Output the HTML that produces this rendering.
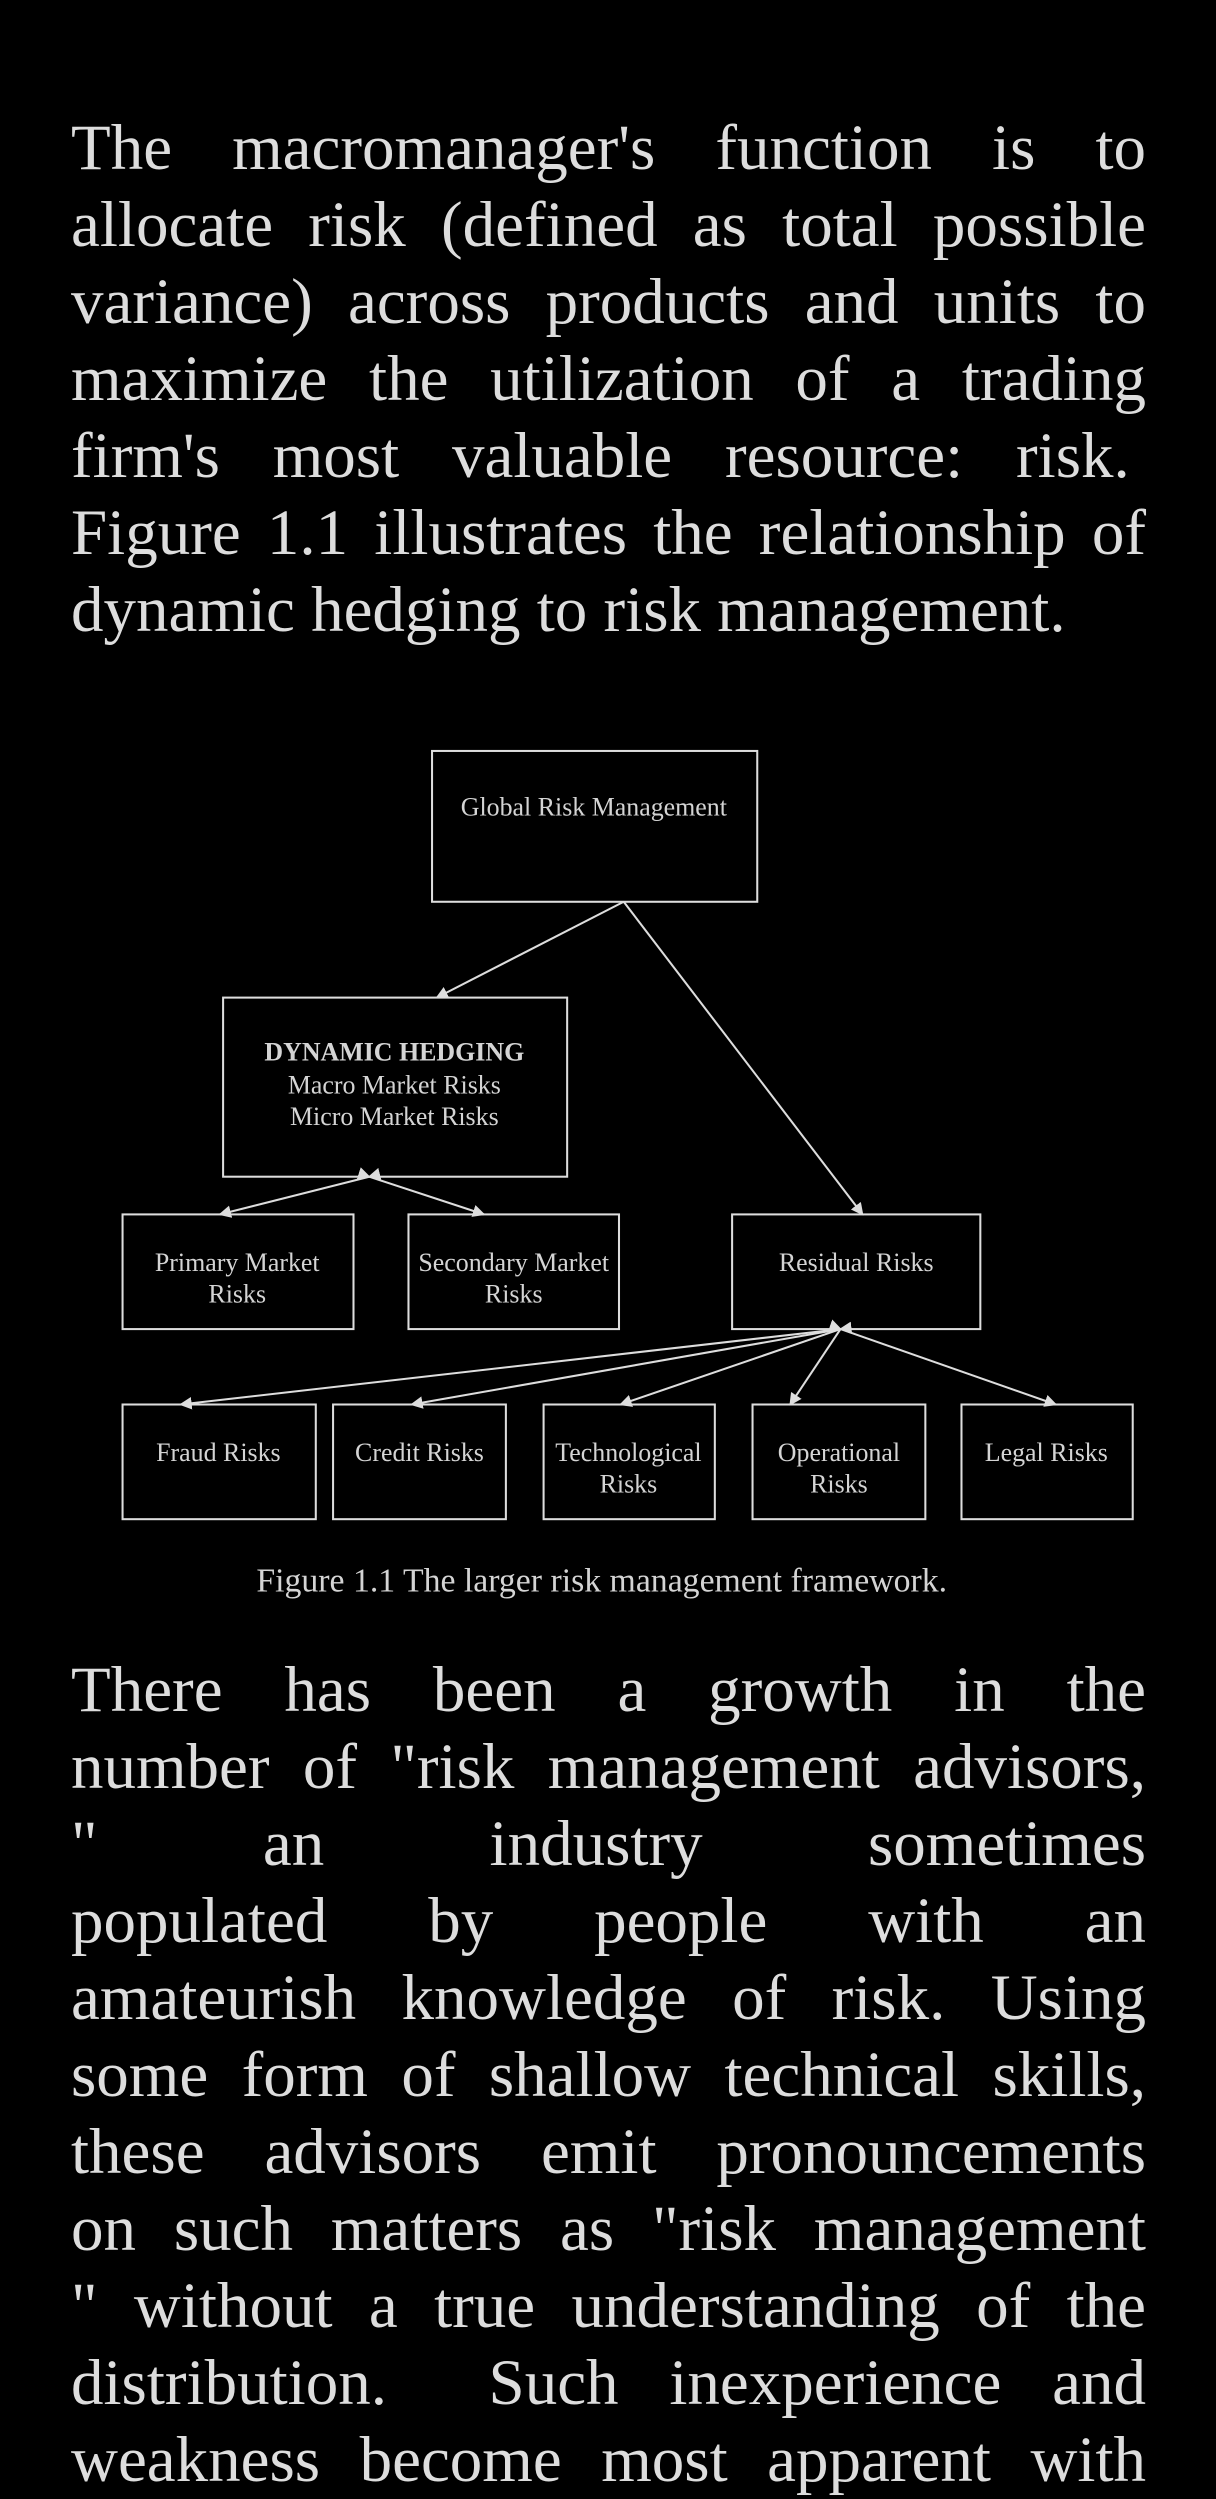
<!DOCTYPE html>
<html><head><meta charset="utf-8"><style>
html,body{margin:0;padding:0;background:#000;}
body{width:1216px;height:2464px;position:relative;overflow:hidden;font-family:"Liberation Serif",serif;color:#ddd;}
.p{position:absolute;left:71px;width:1075px;font-size:65px;}
.p div{height:77px;line-height:77px;white-space:nowrap;text-align:justify;text-align-last:justify;}
.p div.l{text-align-last:left;}
svg{position:absolute;left:0;top:0;}
</style></head><body>
<div class="p" style="top:110px">
<div>The macromanager's function is to</div>
<div>allocate risk (defined as total possible</div>
<div>variance) across products and units to</div>
<div>maximize the utilization of a trading</div>
<div>firm's most valuable resource: risk.&nbsp;</div>
<div>Figure 1.1 illustrates the relationship of</div>
<div class="l">dynamic hedging to risk management.</div>
</div>

<svg width="1216" height="2464" viewBox="0 0 774 1568.4" xmlns="http://www.w3.org/2000/svg">
<defs><marker id="a" markerWidth="8" markerHeight="8" refX="7" refY="4" orient="auto" markerUnits="userSpaceOnUse"><path d="M0,0 L8,4 L0,8 z" fill="#ddd"/></marker></defs>
<g fill="none" stroke="#ddd" stroke-width="1.3">
<rect x="275" y="478" width="207" height="96"/>
<rect x="142" y="635" width="219" height="114"/>
<rect x="78" y="773" width="147" height="73"/>
<rect x="260" y="773" width="134" height="73"/>
<rect x="466" y="773" width="158" height="73"/>
<rect x="78" y="894" width="123" height="73"/>
<rect x="212" y="894" width="110" height="73"/>
<rect x="346" y="894" width="109" height="73"/>
<rect x="479" y="894" width="110" height="73"/>
<rect x="612" y="894" width="109" height="73"/>
<line x1="397" y1="574" x2="278" y2="635" marker-end="url(#a)"/>
<line x1="397" y1="574" x2="549" y2="773" marker-end="url(#a)"/>
<line x1="235" y1="749" x2="140" y2="773" marker-end="url(#a)" marker-start="url(#a)"/>
<line x1="235" y1="749" x2="308" y2="773" marker-end="url(#a)" marker-start="url(#a)"/>
<line x1="535" y1="846" x2="115" y2="894" marker-end="url(#a)" marker-start="url(#a)"/>
<line x1="535" y1="846" x2="262" y2="894" marker-end="url(#a)"/>
<line x1="535" y1="846" x2="395" y2="894" marker-end="url(#a)"/>
<line x1="535" y1="846" x2="503" y2="894" marker-end="url(#a)"/>
<line x1="535" y1="846" x2="672" y2="894" marker-end="url(#a)" marker-start="url(#a)"/>
</g>
<g fill="#d4d4d4" font-family="Liberation Serif, serif" font-size="16.5" text-anchor="middle">
<text x="378" y="519">Global Risk Management</text>
<text x="251" y="675" font-weight="bold" font-size="16.5">DYNAMIC HEDGING</text>
<text x="251" y="696">Macro Market Risks</text>
<text x="251" y="716">Micro Market Risks</text>
<text x="151" y="809">Primary Market</text>
<text x="151" y="829">Risks</text>
<text x="327" y="809">Secondary Market</text>
<text x="327" y="829">Risks</text>
<text x="545" y="809">Residual Risks</text>
<text x="139" y="930">Fraud Risks</text>
<text x="267" y="930">Credit Risks</text>
<text x="400" y="930">Technological</text>
<text x="400" y="950">Risks</text>
<text x="534" y="930">Operational</text>
<text x="534" y="950">Risks</text>
<text x="666" y="930">Legal Risks</text>
<text x="383" y="1013" font-size="21.5">Figure 1.1 The larger risk management framework.</text>
</g>
</svg>

<div class="p" style="top:1652px">
<div>There has been a growth in the</div>
<div>number of "risk management advisors,</div>
<div>" an industry sometimes</div>
<div>populated by people with an</div>
<div>amateurish knowledge of risk. Using</div>
<div>some form of shallow technical skills,</div>
<div>these advisors emit pronouncements</div>
<div>on such matters as "risk management</div>
<div>" without a true understanding of the</div>
<div>distribution. &nbsp;Such inexperience and</div>
<div>weakness become most apparent with</div>
</div>
</body></html>
